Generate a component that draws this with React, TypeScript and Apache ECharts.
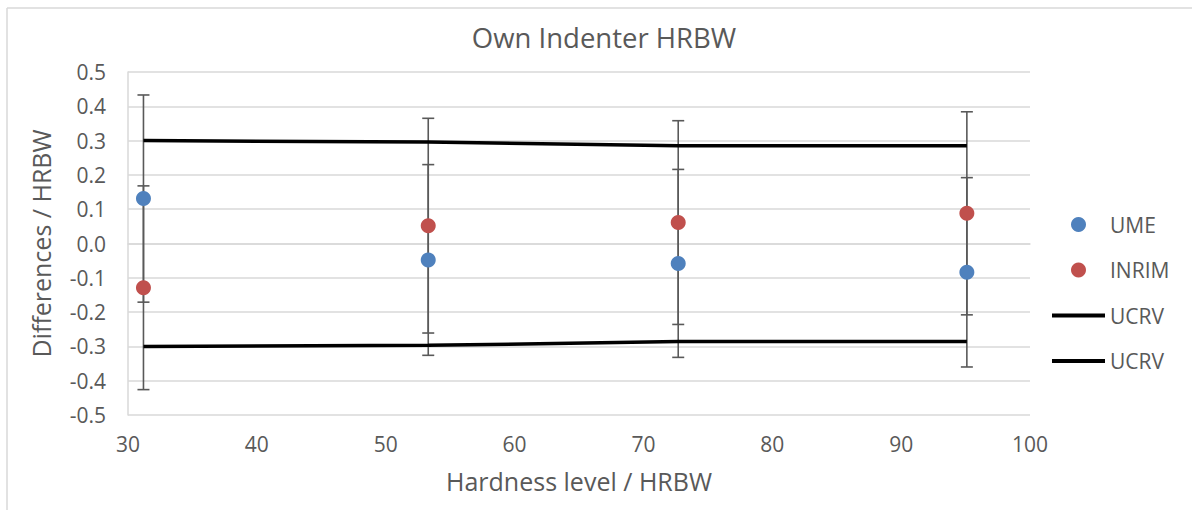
import React, { useEffect, useRef } from "react";
import * as echarts from "echarts";

const hardness = [31.2, 53.3, 72.7, 95.1];
const umeValues = [0.131, -0.048, -0.058, -0.084];
const umeUnc = [0.302, 0.278, 0.274, 0.276];
const inrimValues = [-0.129, 0.052, 0.061, 0.088];
const inrimUnc = [0.297, 0.313, 0.297, 0.296];
const ucrvUpper = [0.3, 0.296, 0.285, 0.285];
const ucrvLower = [-0.3, -0.297, -0.286, -0.286];

const FONT = "Open Sans";
const TXT = "#595959";
const GRID = "#d9d9d9";
const LINE_ICON = "path://M0,0h53v4h-53z";

export default function App() {
  const ref = useRef<HTMLDivElement>(null);
  useEffect(() => {
    if (!ref.current) return;
    const chart = echarts.init(ref.current, undefined, { renderer: "svg" });
    const errData: number[][] = [];
    hardness.forEach((h, i) => {
      errData.push([h, umeValues[i] - umeUnc[i], umeValues[i] + umeUnc[i]]);
      errData.push([h, inrimValues[i] - inrimUnc[i], inrimValues[i] + inrimUnc[i]]);
    });
    chart.setOption({
      animation: false,
      backgroundColor: "#ffffff",
      textStyle: { fontFamily: FONT },
      title: {
        text: "Own Indenter HRBW",
        left: 599,
        textAlign: "center",
        top: 18,
        textStyle: { fontFamily: FONT, fontSize: 27.5, fontWeight: "normal", color: TXT },
      },
      graphic: [
        { type: "line", shape: { x1: 7, y1: 8, x2: 1192, y2: 8 }, style: { stroke: GRID, lineWidth: 1.5 } },
        { type: "line", shape: { x1: 7, y1: 8, x2: 7, y2: 510 }, style: { stroke: GRID, lineWidth: 1.5 } },
      ],
      legend: {
        orient: "vertical",
        left: 1047,
        top: 209,
        itemWidth: 53,
        itemHeight: 15,
        itemGap: 24.5,
        formatter: (n: string) => n.trim(),
        textStyle: { fontFamily: FONT, fontSize: 21, color: TXT },
        data: [
          { name: "UME", icon: "circle" },
          { name: "INRIM", icon: "circle" },
          { name: "UCRV", icon: LINE_ICON },
          { name: "UCRV ", icon: LINE_ICON },
        ],
      },
      grid: { left: 128, right: 162, top: 72, bottom: 95 },
      xAxis: {
        type: "value",
        min: 30,
        max: 100,
        interval: 10,
        name: "Hardness level / HRBW",
        nameLocation: "middle",
        nameGap: 53,
        nameTextStyle: { fontFamily: FONT, fontSize: 25, color: TXT },
        axisLine: { show: true, lineStyle: { color: GRID, width: 1.5 } },
        axisTick: { show: false },
        splitLine: { show: false },
        axisLabel: { fontFamily: FONT, fontSize: 21, color: TXT, margin: 18 },
      },
      yAxis: {
        type: "value",
        min: -0.5,
        max: 0.5,
        interval: 0.1,
        name: "Differences / HRBW",
        nameLocation: "middle",
        nameGap: 75,
        nameTextStyle: { fontFamily: FONT, fontSize: 25, color: TXT },
        axisLine: { show: true, lineStyle: { color: GRID, width: 1.5 } },
        axisTick: { show: false },
        splitLine: { show: true, lineStyle: { color: GRID, width: 1.5 } },
        axisLabel: {
          fontFamily: FONT,
          fontSize: 21,
          color: TXT,
          margin: 22,
          formatter: (v: number) => (Math.abs(v) < 1e-9 ? 0 : v).toFixed(1),
        },
      },
      series: [
        {
          type: "custom",
          name: "err",
          silent: true,
          z: 1,
          data: errData,
          encode: { x: 0, y: [1, 2] },
          renderItem: (params: any, api: any) => {
            const x = api.value(0);
            const lo = api.value(1);
            const hi = api.value(2);
            const pt = api.coord([x, hi]);
            const pb = api.coord([x, lo]);
            const half = 6;
            const st = { stroke: "#595959", lineWidth: 1.6 };
            return {
              type: "group",
              children: [
                { type: "line", shape: { x1: pt[0], y1: pt[1], x2: pb[0], y2: pb[1] }, style: st },
                { type: "line", shape: { x1: pt[0] - half, y1: pt[1], x2: pt[0] + half, y2: pt[1] }, style: st },
                { type: "line", shape: { x1: pb[0] - half, y1: pb[1], x2: pb[0] + half, y2: pb[1] }, style: st },
              ],
            };
          },
        },
        {
          type: "line",
          name: "UCRV",
          z: 2,
          symbol: "none",
          data: hardness.map((h, i) => [h, ucrvUpper[i]]),
          lineStyle: { color: "#000000", width: 3.5 },
          itemStyle: { color: "#000000" },
        },
        {
          type: "line",
          name: "UCRV ",
          z: 2,
          symbol: "none",
          data: hardness.map((h, i) => [h, ucrvLower[i]]),
          lineStyle: { color: "#000000", width: 3.5 },
          itemStyle: { color: "#000000" },
        },
        {
          type: "scatter",
          name: "UME",
          z: 3,
          symbolSize: 15,
          data: hardness.map((h, i) => [h, umeValues[i]]),
          itemStyle: { color: "#4F81BD", opacity: 1 },
        },
        {
          type: "scatter",
          name: "INRIM",
          z: 3,
          symbolSize: 15,
          data: hardness.map((h, i) => [h, inrimValues[i]]),
          itemStyle: { color: "#C0504D", opacity: 1 },
        },
      ],
    });
    return () => chart.dispose();
  }, []);
  return (
    <div
      ref={ref}
      style={{ position: "fixed", left: 0, top: 0, width: 1192, height: 510, background: "#fff" }}
    />
  );
}
